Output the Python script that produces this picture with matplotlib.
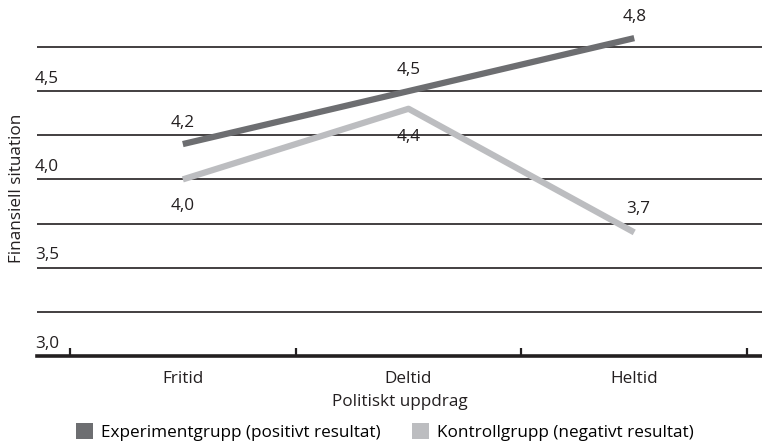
import matplotlib
matplotlib.use("Agg")
import matplotlib.pyplot as plt
from matplotlib.patches import Patch
import numpy as np

plt.rcParams['font.family'] = ['Open Sans', 'DejaVu Sans']
fs = 12.3

categories = ["Fritid", "Deltid", "Heltid"]
experiment = [4.2, 4.5, 4.8]
control = [4.0, 4.4, 3.7]
exp_labels = ["4,2", "4,5", "4,8"]
ctrl_labels = ["4,0", "4,4", "3,7"]
ctrl_offsets = [-19, -20, 17]  # points, label below/above each point

dark = "#6d6e71"
light = "#bcbdc0"
ink = "#231f20"

fig = plt.figure(figsize=(7.62, 4.42), dpi=100)
ax = fig.add_axes([37 / 762, 86 / 442, 725 / 762, 356 / 442])

x = np.arange(len(categories))
ax.set_xlim(-0.646, 2.566)
ax.set_ylim(3.0, 3.0 + 356 / 176.6)

# horizontal rules every 0.25, number shown on every second one
for yv in np.arange(3.25, 4.8, 0.25):
    ax.axhline(yv, color=ink, lw=1.2, zorder=1)
for yv in [3.0, 3.5, 4.0, 4.5]:
    ax.text(-0.655, yv + 0.025, f"{yv:.1f}".replace(".", ","), ha="left",
            va="bottom", fontsize=fs, color=ink)

ax.plot(x, experiment, color=dark, lw=4.5, solid_capstyle="butt", zorder=3,
        clip_on=False)
ax.plot(x, control, color=light, lw=4.5, solid_capstyle="butt", zorder=2,
        clip_on=False)

for xi, yv, lab in zip(x, experiment, exp_labels):
    ax.annotate(lab, (xi, yv), xytext=(0, 15), textcoords="offset points",
                ha="center", va="center", fontsize=fs, color=ink)
for xi, yv, lab, off in zip(x, control, ctrl_labels, ctrl_offsets):
    ax.annotate(lab, (xi, yv), xytext=(3 if off > 0 else 0, off),
                textcoords="offset points", ha="center", va="center",
                fontsize=fs, color=ink)

for side in ["top", "right", "left"]:
    ax.spines[side].set_visible(False)
ax.spines["bottom"].set_linewidth(2.6)
ax.spines["bottom"].set_color(ink)
ax.set_yticks([])

ax.set_xticks([-0.5, 0.5, 1.5, 2.5])
ax.set_xticklabels([])
ax.set_xticks(x, minor=True)
ax.set_xticklabels(categories, minor=True)
ax.tick_params(axis="x", which="major", direction="in", length=6, width=1.6,
               color=ink)
ax.tick_params(axis="x", which="minor", length=0, pad=11, labelsize=fs,
               labelcolor=ink)
ax.set_xlabel("Politiskt uppdrag", fontsize=fs, color=ink, labelpad=5)

fig.text(17 / 762, 1 - 188 / 442, "Finansiell situation", rotation=90,
         ha="center", va="center", fontsize=fs, color=ink)

handles = [Patch(facecolor=dark, edgecolor="none"),
           Patch(facecolor=light, edgecolor="none")]
fig.legend(handles, ["Experimentgrupp (positivt resultat)",
                     "Kontrollgrupp (negativt resultat)"],
           loc="center", bbox_to_anchor=(385 / 762, 1 - 432 / 442), ncol=2,
           frameon=False, fontsize=fs, handlelength=1.0, handleheight=1.0,
           handletextpad=0.5, columnspacing=1.8, borderaxespad=0)

fig.savefig("out.png", dpi=100)
